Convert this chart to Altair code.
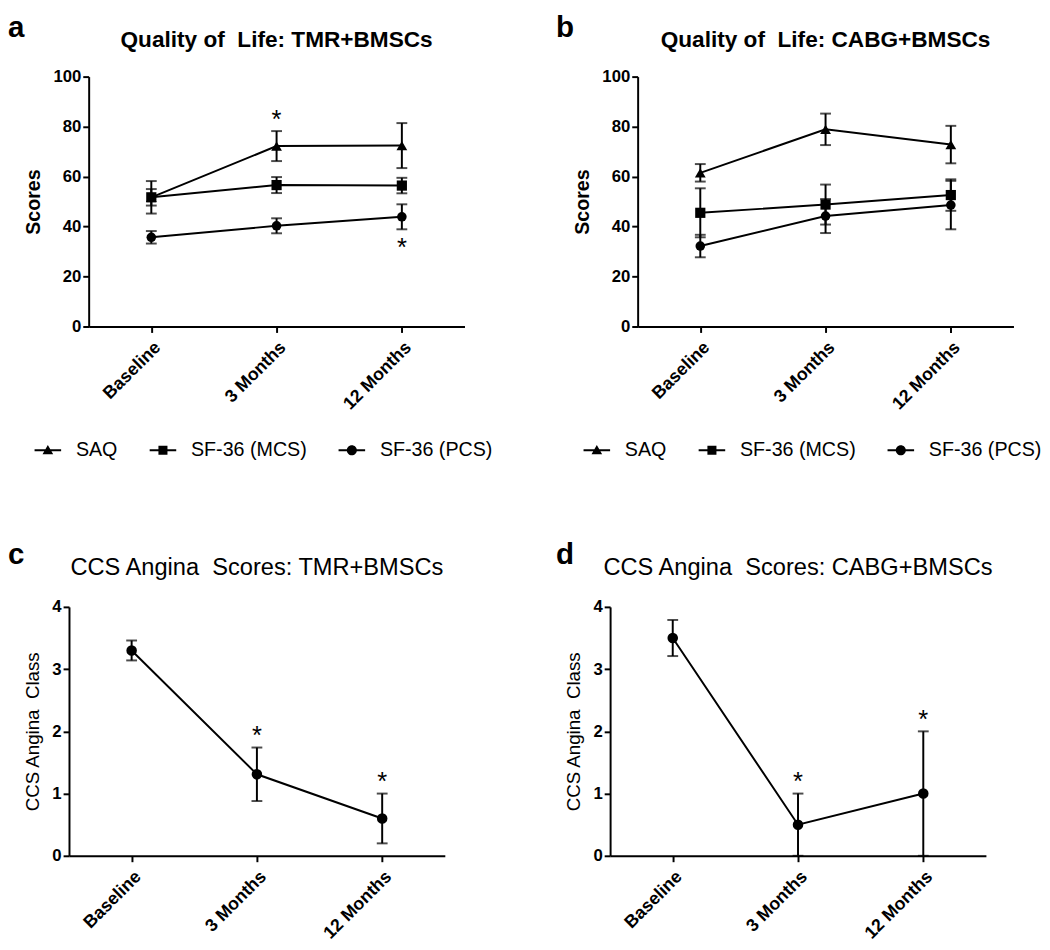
import altair as alt
import pandas as pd

FONT = "Liberation Sans"
NB = "\u00a0"  # keeps the double spaces of the original labels

timepoints = ["Baseline", "3 Months", "12 Months"]
series_names = ["SAQ", "SF-36 (MCS)", "SF-36 (PCS)"]

# Panel a: Quality of Life, TMR+BMSCs
a_saq = [51.7, 72.2, 72.4]
a_saq_err = [6.5, 6.0, 9.0]
a_mcs = [51.7, 56.6, 56.4]
a_mcs_err = [3.3, 3.2, 3.1]
a_pcs = [35.7, 40.3, 43.9]
a_pcs_err = [2.5, 3.0, 5.0]
a_star_time = ["3 Months", "12 Months"]
a_star_y = [85.0, 33.7]

# Panel b: Quality of Life, CABG+BMSCs
b_saq = [61.5, 78.9, 72.8]
b_saq_err = [3.5, 6.3, 7.5]
b_mcs = [45.5, 48.8, 52.6]
b_mcs_err = [9.8, 8.0, 6.3]
b_pcs = [32.2, 44.2, 48.6]
b_pcs_err = [4.5, 6.8, 9.7]
b_star_time = []
b_star_y = []

# Panel c: CCS Angina Scores, TMR+BMSCs
c_ccs = [3.30, 1.31, 0.60]
c_ccs_err = [0.16, 0.43, 0.40]
c_star_time = ["3 Months", "12 Months"]
c_star_y = [2.02, 1.28]

# Panel d: CCS Angina Scores, CABG+BMSCs
d_ccs = [3.50, 0.50, 1.00]
d_ccs_err = [0.29, 0.50, 1.00]
d_star_time = ["3 Months", "12 Months"]
d_star_y = [1.28, 2.28]

# legend symbols: short horizontal line with the marker in its middle
legend_paths = [
    "M-1,-0.075H1V0.075H-1ZM0,-0.4L0.4,0.3H-0.4Z",
    "M-1,-0.075H1V0.075H-1ZM-0.34,-0.34H0.34V0.34H-0.34Z",
    "M-1,-0.075H1V0.075H-1ZM0.38,0A0.38,0.38 0 1,1 -0.38,0A0.38,0.38 0 1,1 0.38,0Z",
]

W = 382


def text_layer(txt, x, y, size, weight, align="left", opacity=1):
    return alt.Chart(pd.DataFrame({"t": [txt]})).mark_text(
        align=align, baseline="alphabetic", font=FONT, fontSize=size,
        fontWeight=weight, color="black", opacity=opacity
    ).encode(text="t:N", x=alt.value(x), y=alt.value(y))


def panel(series, times_star, ys_star, ymax, yvalues, ytitle, ytitle_size, ytitle_weight,
          title, title_size, title_weight, title_y, letter, letter_x, letter_y,
          height, with_legend, shapes, sizes, spacer_x=None, shift=0):
    rows = []
    for name, vals, errs in series:
        for t, v, e in zip(timepoints, vals, errs):
            rows.append({"time": t, "series": name, "value": v, "err": e})
    df = pd.DataFrame(rows)
    names = [s[0] for s in series]

    if shift:
        xscale = alt.Scale(type="point", padding=0.5, range=[-shift, W - shift])
    else:
        xscale = alt.Scale(type="point", padding=0.5)

    def xenc():
        return alt.X("time:N", sort=timepoints, scale=xscale,
                     axis=alt.Axis(title=None, labelAngle=-45))

    yscale = alt.Scale(domain=[0, ymax], nice=False)
    yaxis = alt.Axis(values=yvalues, title=ytitle, titleFontSize=ytitle_size,
                     titleFontWeight=ytitle_weight, offset=shift)

    def yenc(field):
        return alt.Y(field, scale=yscale, axis=yaxis, title=ytitle)

    base = alt.Chart(df).transform_calculate(
        lo="max(datum.value - datum.err, 0)", hi="datum.value + datum.err"
    )
    line = base.mark_line(color="black", strokeWidth=2).encode(
        x=xenc(), y=yenc("value:Q"), detail="series:N")
    rule = base.mark_rule(color="black", strokeWidth=2).encode(
        x=xenc(), y=yenc("lo:Q"), y2="hi:Q")
    cap_lo = base.mark_tick(color="black", thickness=2, size=11).encode(
        x=xenc(), y=yenc("lo:Q"))
    cap_hi = base.mark_tick(color="black", thickness=2, size=11).encode(
        x=xenc(), y=yenc("hi:Q"))
    if len(names) > 1:
        pts = base.mark_point(filled=True, color="black", opacity=1).encode(
            x=xenc(), y=yenc("value:Q"),
            shape=alt.Shape("series:N", scale=alt.Scale(domain=names, range=shapes), legend=None),
            size=alt.Size("series:N", scale=alt.Scale(domain=names, range=sizes), legend=None),
        )
    else:
        pts = base.mark_point(filled=True, color="black", opacity=1,
                              shape=shapes[0], size=sizes[0]).encode(
            x=xenc(), y=yenc("value:Q"))
    layers = [line, rule, cap_lo, cap_hi, pts]
    if times_star:
        sdf = pd.DataFrame({"time": times_star, "sy": ys_star})
        stars = alt.Chart(sdf).mark_text(
            text="*", font=FONT, fontSize=26, dy=14, baseline="alphabetic", color="black"
        ).encode(x=xenc(), y=yenc("sy:Q"))
        layers.append(stars)
    if with_legend:
        leg = alt.Chart(df).transform_filter("false").mark_point(filled=True, color="black").encode(
            shape=alt.Shape("series:N", scale=alt.Scale(domain=names, range=legend_paths),
                            legend=alt.Legend(
                                title=None, orient="none", legendX=-55, legendY=366,
                                direction="horizontal", symbolSize=729, symbolStrokeWidth=0,
                                symbolFillColor="black", symbolStrokeColor="black",
                                symbolOpacity=1, labelFont=FONT, labelFontSize=20,
                                labelColor="black", labelOffset=15, columnPadding=32,
                                padding=0)))
        layers.append(leg)
    layers.append(text_layer(title, W / 2 - shift, title_y, title_size, title_weight, align="center"))
    layers.append(text_layer(letter, letter_x - shift, letter_y, 30, "bold"))
    if spacer_x is not None:
        layers.append(text_layer(".", spacer_x - shift, -10, 10, "normal", opacity=0))
    return alt.layer(*layers).resolve_scale(shape="independent", size="independent").properties(
        width=W, height=height)


qol_shapes = ["triangle-up", "square", "circle"]
qol_sizes = [120, 95, 105]

pa = panel([("SAQ", a_saq, a_saq_err), ("SF-36 (MCS)", a_mcs, a_mcs_err),
            ("SF-36 (PCS)", a_pcs, a_pcs_err)],
           a_star_time, a_star_y, 100, [0, 20, 40, 60, 80, 100], "Scores", 20, "bold",
           "Quality of" + NB + " Life: TMR+BMSCs", 23, "bold", -30, "a", -82, -40, 254,
           True, qol_shapes, qol_sizes)
pb = panel([("SAQ", b_saq, b_saq_err), ("SF-36 (MCS)", b_mcs, b_mcs_err),
            ("SF-36 (PCS)", b_pcs, b_pcs_err)],
           b_star_time, b_star_y, 100, [0, 20, 40, 60, 80, 100], "Scores", 20, "bold",
           "Quality of" + NB + " Life: CABG+BMSCs", 23, "bold", -30, "b", -83, -40, 254,
           True, qol_shapes, qol_sizes)
pc = panel([("CCS", c_ccs, c_ccs_err)],
           c_star_time, c_star_y, 4, [0, 1, 2, 3, 4], "CCS Angina" + NB + " Class", 19, "normal",
           "CCS Angina" + NB + " Scores: TMR+BMSCs", 24, "normal", -32, "c", -62, -44, 253,
           False, ["circle"], [115], spacer_x=418, shift=20)
pd_ = panel([("CCS", d_ccs, d_ccs_err)],
            d_star_time, d_star_y, 4, [0, 1, 2, 3, 4], "CCS Angina" + NB + " Class", 19, "normal",
            "CCS Angina" + NB + " Scores: CABG+BMSCs", 24, "normal", -32, "d", -55, -44, 253,
            False, ["circle"], [115])

chart = alt.concat(
    pa, pb, pc, pd_, columns=2, align="none",
    spacing={"row": 81, "column": 64}
).resolve_scale(
    shape="independent", size="independent"
).properties(
    padding={"left": 0, "top": -2, "right": 0, "bottom": 0}, background="white"
).configure_view(stroke=None).configure_axis(
    domainColor="black", domainWidth=2, tickColor="black", tickWidth=2, tickSize=6,
    labelColor="black", labelFont=FONT, labelFontWeight="bold", titleFont=FONT,
    titleColor="black", titleFontWeight="normal", grid=False
).configure_axisX(
    labelFontSize=18, labelPadding=6
).configure_axisY(
    labelFontSize=17, labelPadding=2, titlePadding=10
)

chart.save("out.html", embed_options={"renderer": "svg", "actions": False})
